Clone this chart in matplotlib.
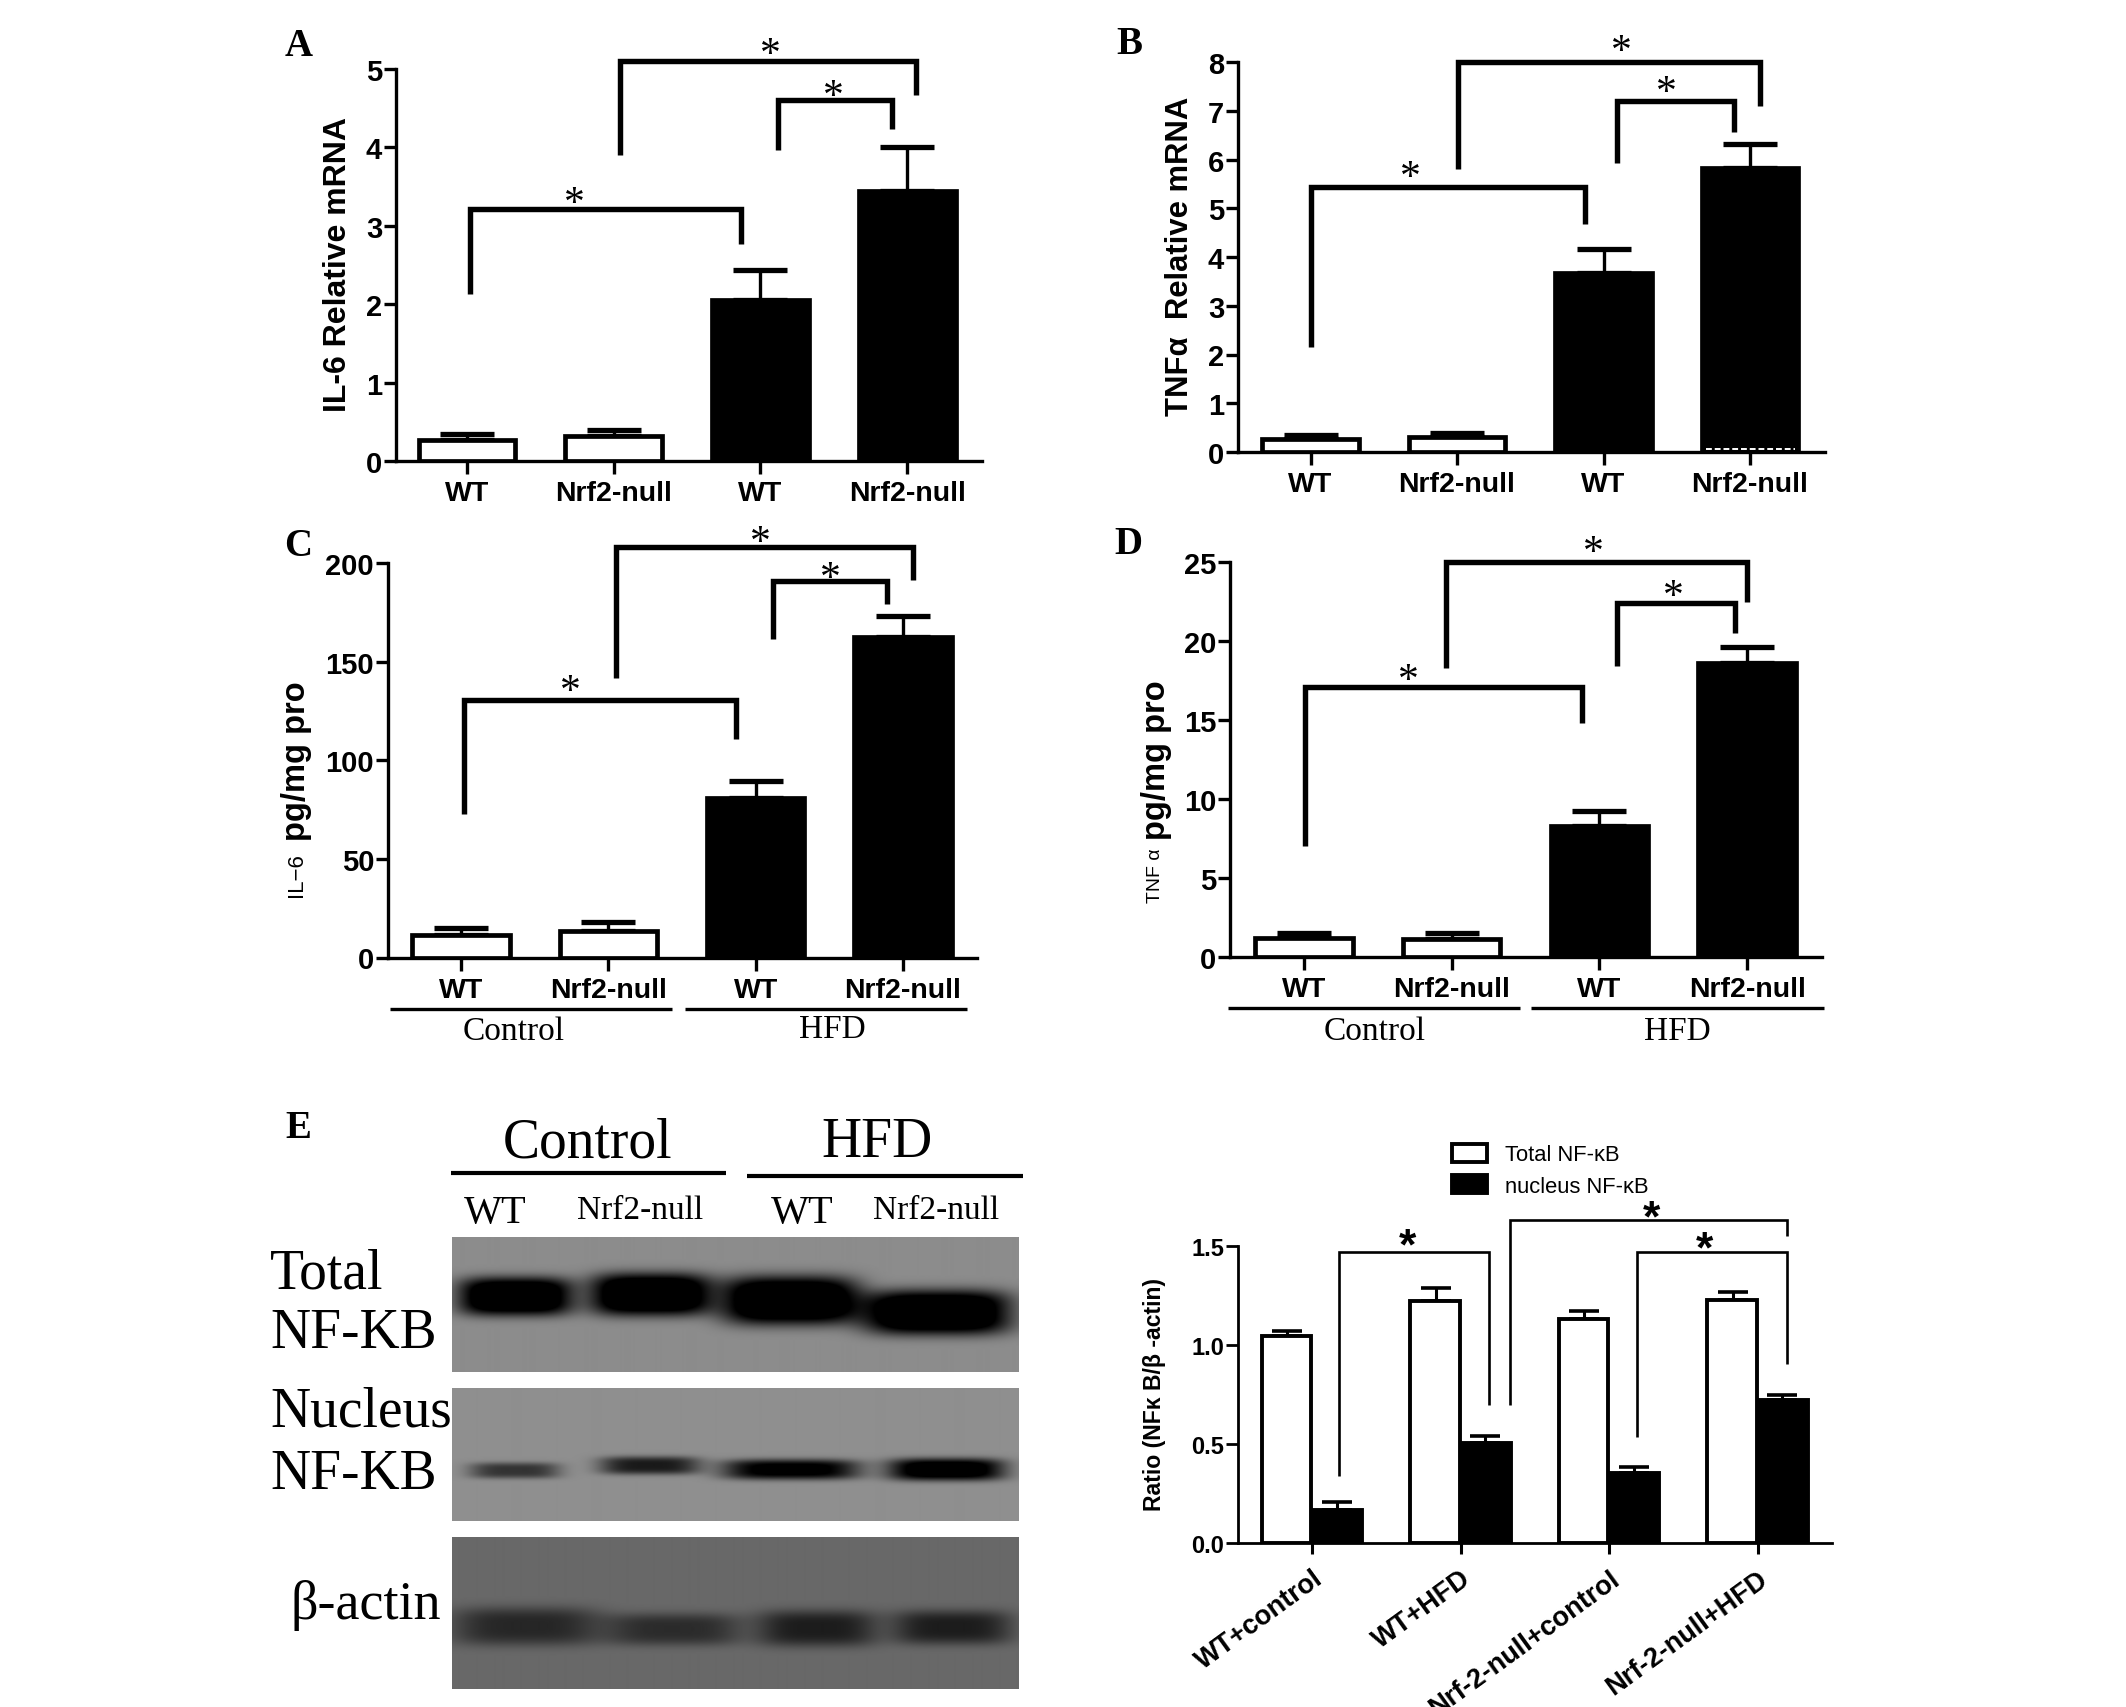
import numpy as np
import matplotlib
matplotlib.use("Agg")
import matplotlib.pyplot as plt

W, H = 2126, 1708
SANS = "Liberation Sans"
SERIF = "Liberation Serif"
plt.rcParams["font.family"] = [SANS, "DejaVu Sans"]

# ---------- data ----------
genotypes = ["WT", "Nrf2-null", "WT", "Nrf2-null"]

il6_mrna = [0.27, 0.32, 2.05, 3.45]
il6_mrna_top = [0.35, 0.40, 2.44, 4.01]
il6_mrna_ticks = [0, 1, 2, 3, 4, 5]
il6_mrna_brackets = [(0.02, 1.87, 3.22, 2.13, 2.77), (1.04, 3.06, 5.10, 3.90, 4.67), (2.12, 2.90, 4.60, 3.97, 4.23)]
il6_mrna_stars = [(0.735, 3.40), (2.07, 5.30), (2.50, 4.77)]

tnf_mrna = [0.26, 0.31, 3.67, 5.82]
tnf_mrna_top = [0.35, 0.40, 4.16, 6.31]
tnf_mrna_ticks = [0, 1, 2, 3, 4, 5, 6, 7, 8]
tnf_mrna_brackets = [(0.0, 1.875, 5.43, 2.15, 4.68), (1.01, 3.07, 7.99, 5.80, 7.10), (2.09, 2.89, 7.20, 5.92, 6.57)]
tnf_mrna_stars = [(0.68, 5.82), (2.12, 8.40), (2.43, 7.56)]

il6_prot = [11.5, 13.6, 81, 162.5]
il6_prot_top = [15.2, 17.9, 89.6, 173]
il6_prot_ticks = [0, 50, 100, 150, 200]
il6_prot_brackets = [(0.02, 1.87, 130.4, 72.7, 110.7), (1.05, 3.07, 207.9, 141.8, 191.4), (2.12, 2.89, 190.9, 161.4, 179.3)]
il6_prot_stars = [(0.745, 139.6), (2.03, 215), (2.51, 196.8)]

tnf_prot = [1.20, 1.17, 8.30, 18.6]
tnf_prot_top = [1.50, 1.52, 9.26, 19.6]
tnf_prot_ticks = [0, 5, 10, 15, 20, 25]
tnf_prot_brackets = [(0.01, 1.88, 17.1, 7.0, 14.8), (0.96, 3.0, 25.0, 18.3, 22.5), (2.12, 2.92, 22.4, 18.4, 20.5)]
tnf_prot_stars = [(0.71, 18.1), (1.96, 26.2), (2.50, 23.4)]

nfkb_groups = ["WT+control", "WT+HFD", "Nrf-2-null+control", "Nrf-2-null+HFD"]
nfkb_total = [1.045, 1.223, 1.130, 1.229]
nfkb_total_top = [1.072, 1.288, 1.170, 1.267]
nfkb_nucleus = [0.167, 0.504, 0.356, 0.722]
nfkb_nucleus_top = [0.205, 0.540, 0.385, 0.750]
nfkb_ticks = [0.0, 0.5, 1.0, 1.5]
nfkb_brackets = [(0.183, 1.19, 1.468, 0.336, 0.696), (1.332, 3.2, 1.631, 0.696, 1.549), (2.19, 3.2, 1.468, 0.533, 0.903)]
nfkb_stars = [(0.64, 1.545), (2.285, 1.686), (2.645, 1.526)]

# blot bands: (x, y, half width, half height, darkness 0-1)
total_bands = [(515, 1297, 57, 19, .80), (650, 1295, 60, 21, .82), (789, 1301, 68, 24, .82), (936, 1313, 73, 22, .82)]
nucleus_bands = [(514, 1471, 45, 8, .36), (649, 1466, 50, 9, .46), (790, 1470, 68, 10, .62), (945, 1470, 58, 11, .70)]
actin_bands = [(525, 1627, 74, 19, .26), (673, 1630, 68, 16, .24), (816, 1629, 60, 18, .30), (951, 1628, 60, 17, .30)]

fig = plt.figure(figsize=(W / 100, H / 100), dpi=100, facecolor="white")


def px_axes(l, t, r, b):
    return fig.add_axes([l / W, 1 - b / H, (r - l) / W, (b - t) / H])


def ftext(x, y, s, **kw):
    kw.setdefault("ha", "center")
    kw.setdefault("va", "center")
    return fig.text(x / W, 1 - y / H, s, **kw)


def hline(x0, x1, y, lw):
    fig.add_artist(plt.Line2D([x0 / W, x1 / W], [1 - y / H, 1 - y / H], color="black", lw=lw, solid_capstyle="butt"))


def style_axes(ax, ticks, fmt, tick_fs, lw=2.4):
    for s in ("top", "right"):
        ax.spines[s].set_visible(False)
    for s in ("left", "bottom"):
        ax.spines[s].set_linewidth(lw)
    ax.patch.set_alpha(0)
    ax.set_yticks(ticks)
    ax.set_yticklabels([fmt.format(t) for t in ticks], fontsize=tick_fs, fontweight="bold")
    ax.tick_params(axis="y", length=9, width=lw, pad=1)


def brackets(ax, items, lw):
    for left, right, top, lf, rf in items:
        ax.plot([left, left, right, right], [lf, top, top, rf], color="black", lw=lw,
                solid_joinstyle="miter", solid_capstyle="butt", clip_on=False, zorder=5)


def stars(ax, items, fs, weight="normal", fam=SERIF):
    for x, y in items:
        ax.annotate("*", xy=(x, y), xytext=(0, -0.47 * fs), textcoords="offset points", ha="center",
                    va="baseline", fontsize=fs, family=fam, fontweight=weight, annotation_clip=False)


def bar_panel(box, x0, unit, ymax, vals, tops, ticks, brs, sts):
    l, t, r, b = box
    ax = px_axes(l, t, r, b)
    ax.set_xlim((l - x0) / unit, (r - x0) / unit)
    ax.set_ylim(0, ymax)
    pos = np.arange(4)
    fills = ["white", "white", "black", "black"]
    ax.bar(pos, vals, width=0.66, color=fills, edgecolor="black", linewidth=3.4, zorder=3)
    yerr = np.array(tops) - np.array(vals)
    ax.errorbar(pos, vals, yerr=[np.zeros(4), yerr], fmt="none", ecolor="black", elinewidth=2.4,
                capsize=19.5, capthick=3.8, zorder=2, clip_on=False)
    style_axes(ax, ticks, "{:d}", 21)
    ax.set_xticks(pos)
    ax.set_xticklabels(genotypes, fontsize=20.5, fontweight="bold")
    ax.tick_params(axis="x", length=9, width=2.4, pad=5)
    brackets(ax, brs, 3.9)
    stars(ax, sts, 30)
    return ax


ax_a = bar_panel((396, 70, 982, 462), 467, 146.7, 5, il6_mrna, il6_mrna_top, il6_mrna_ticks, il6_mrna_brackets, il6_mrna_stars)
ax_b = bar_panel((1238, 63, 1825, 453), 1310.5, 146.5, 8, tnf_mrna, tnf_mrna_top, tnf_mrna_ticks, tnf_mrna_brackets, tnf_mrna_stars)
ax_c = bar_panel((388, 564, 977, 958.5), 461, 147.3, 200, il6_prot, il6_prot_top, il6_prot_ticks, il6_prot_brackets, il6_prot_stars)
ax_d = bar_panel((1230, 563, 1822, 958), 1304, 147.7, 25, tnf_prot, tnf_prot_top, tnf_prot_ticks, tnf_prot_brackets, tnf_prot_stars)

# white dashes at the foot of the last bar in B
ax_b.plot([2.7, 3.31], [0.06, 0.06], color="white", lw=1.4, ls=(0, (3, 1.5)), zorder=4)

# y labels
ftext(338, 265, "IL-6 Relative mRNA", rotation=90, fontsize=23, fontweight="bold")
ftext(1180, 256, "TNFα  Relative mRNA", rotation=90, fontsize=22.3, fontweight="bold")
ftext(296, 875, "IL−6", rotation=90, fontsize=16)
ftext(297, 761, "pg/mg pro", rotation=90, fontsize=23.5, fontweight="bold")
ftext(1156, 876, "TNF α", rotation=90, fontsize=14)
ftext(1157, 760, "pg/mg pro", rotation=90, fontsize=23.5, fontweight="bold")

# group lines beneath C and D
hline(390, 672, 1010, 2.4)
hline(685, 967, 1010, 2.4)
hline(1228, 1520, 1009, 2.4)
hline(1531, 1824, 1009, 2.4)
ftext(514, 1032, "Control", family=SERIF, fontsize=24)
ftext(832, 1030, "HFD", family=SERIF, fontsize=24)
ftext(1375, 1032, "Control", family=SERIF, fontsize=24)
ftext(1677, 1032, "HFD", family=SERIF, fontsize=24)

# panel letters
for x, y, s in [(299, 47, "A"), (1129, 45, "B"), (298, 547, "C"), (1128, 545, "D"), (298, 1129, "E")]:
    ftext(x, y, s, family=SERIF, fontweight="bold", fontsize=28)


# ---------- blots ----------
def blot(box, bands, bg):
    l, t, r, b = box
    ax = px_axes(l, t, r, b)
    yy, xx = np.mgrid[t:b, l:r]
    img = np.full(xx.shape, float(bg))
    for cx, cy, hw, hh, d in bands:
        img -= d * np.exp(-(np.abs((xx - cx) / hw) ** 4 + np.abs((yy - cy) / hh) ** 3.4))
    ax.imshow(np.clip(img, 0, 1), cmap="gray", vmin=0, vmax=1, aspect="auto", extent=(l, r, b, t),
              interpolation="bilinear")
    ax.axis("off")


blot((452, 1238, 1018, 1373), total_bands, 0.55)
blot((452, 1389, 1018, 1522), nucleus_bands, 0.56)
blot((452, 1538, 1018, 1690), actin_bands, 0.41)

ftext(270, 1275, "Total", ha="left", family=SERIF, fontsize=40)
ftext(270, 1334, "NF-KB", ha="left", family=SERIF, fontsize=40)
ftext(270, 1413, "Nucleus", ha="left", family=SERIF, fontsize=40)
ftext(270, 1475, "NF-KB", ha="left", family=SERIF, fontsize=40)
ftext(290, 1606, "β-actin", ha="left", family=SERIF, fontsize=39)
ftext(588, 1143, "Control", family=SERIF, fontsize=40)
ftext(877, 1143, "HFD", family=SERIF, fontsize=40)
hline(451, 726, 1174, 3)
hline(747, 1023, 1177, 3)
for x, y, s, fs in [(495, 1214, "WT", 29), (640, 1211, "Nrf2-null", 24), (802, 1214, "WT", 29), (936, 1211, "Nrf2-null", 24)]:
    ftext(x, y, s, family=SERIF, fontsize=fs)

# ---------- NF-kB chart ----------
ax_e = px_axes(1238, 1247, 1832, 1544)
e_x0, e_unit = 1312, 148.5
ax_e.set_xlim((1238 - e_x0) / e_unit, (1832 - e_x0) / e_unit)
ax_e.set_ylim(0, 1.5)
pos = np.arange(4)
bw = 0.335
b1 = ax_e.bar(pos - bw / 2 - 0.004, nfkb_total, width=bw, color="white", edgecolor="black", linewidth=2.8,
              zorder=3, label="Total NF-κB")
b2 = ax_e.bar(pos + bw / 2 + 0.004, nfkb_nucleus, width=bw, color="black", edgecolor="black", linewidth=2.8,
              zorder=3, label="nucleus NF-κB")
ax_e.errorbar(pos - bw / 2, nfkb_total, yerr=[np.zeros(4), np.array(nfkb_total_top) - np.array(nfkb_total)],
              fmt="none", ecolor="black", elinewidth=2.2, capsize=10.5, capthick=2.6, zorder=2)
ax_e.errorbar(pos + bw / 2, nfkb_nucleus, yerr=[np.zeros(4), np.array(nfkb_nucleus_top) - np.array(nfkb_nucleus)],
              fmt="none", ecolor="black", elinewidth=2.2, capsize=10.5, capthick=2.6, zorder=2)
style_axes(ax_e, nfkb_ticks, "{:.1f}", 17, lw=2.0)
ax_e.set_xticks(pos)
ax_e.set_xticklabels(nfkb_groups, fontsize=19.5, fontweight="bold", rotation=36, ha="right", rotation_mode="anchor")
ax_e.tick_params(axis="x", length=8, width=2.2, pad=8)
brackets(ax_e, nfkb_brackets, 1.9)
stars(ax_e, nfkb_stars, 32, weight="bold", fam=SANS)
ftext(1155, 1395, "Ratio (NFκ B/β -actin)", rotation=90, fontsize=16.6, fontweight="bold")
leg = ax_e.legend(handles=[b1, b2], loc="upper left", bbox_to_anchor=(1452 / W, 1 - 1145 / H),
                  bbox_transform=fig.transFigure, frameon=False, fontsize=15.8, borderpad=0, borderaxespad=0,
                  handlelength=1.6, handleheight=0.85, handletextpad=0.8, labelspacing=0.45)

fig.savefig("out.png", dpi=100, facecolor="white")
